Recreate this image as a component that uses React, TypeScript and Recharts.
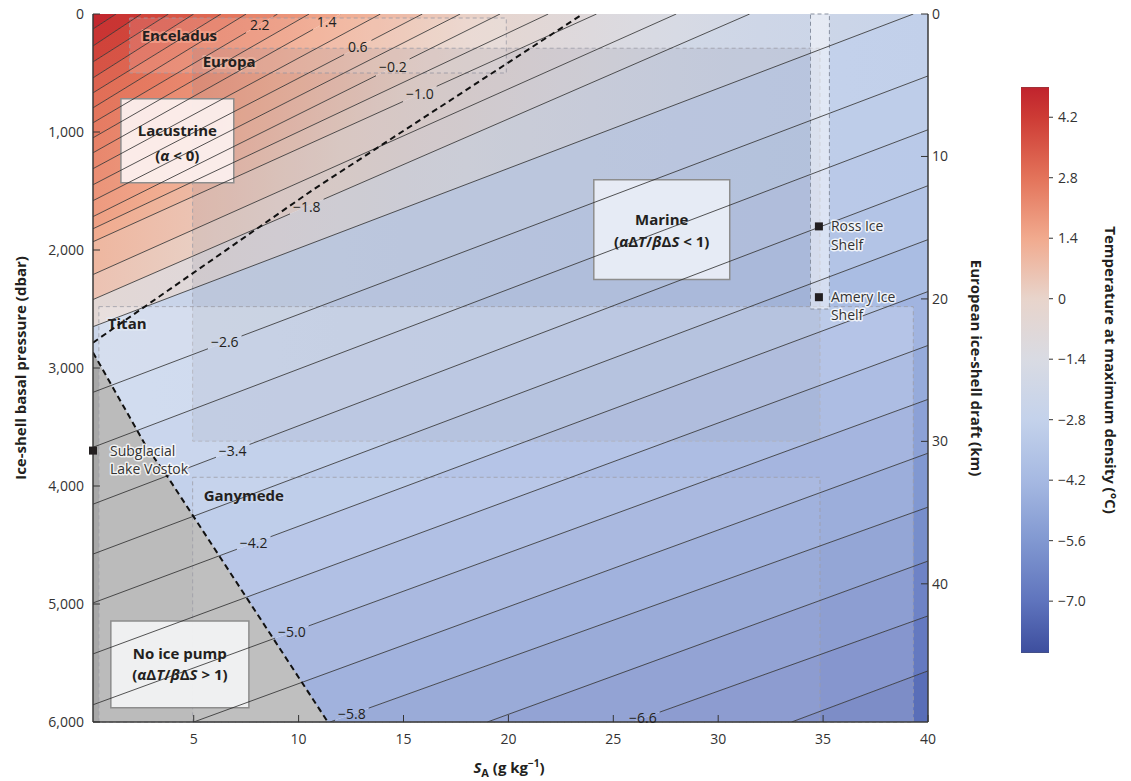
import React from 'react';
import { ComposedChart, Area, Line, XAxis, YAxis, ReferenceArea, ReferenceDot } from 'recharts';

// --- Axes ---
const S_MIN = 0.2;
const S_MAX = 40;
const P_MAX = 6000;
const KM_MAX = 49.7;

const xTicks = [5, 10, 15, 20, 25, 30, 35, 40];
const pTicks = [0, 1000, 2000, 3000, 4000, 5000, 6000];
const kmTicks = [0, 10, 20, 30, 40];
const cbTicks = [4.2, 2.8, 1.4, 0, -1.4, -2.8, -4.2, -5.6, -7.0];
const cbMin = -8.2;
const cbMax = 4.9;

// --- Contours (°C) ---
// contours running from the left edge (pressure) to the top edge (salinity)
const upperLevels = [4.6, 4.2, 3.8, 3.4, 3.0, 2.6, 2.2, 1.8, 1.4, 1.0, 0.6, 0.2, -0.2, -0.6, -1.0, -1.4, -1.8, -2.2];
const upperLeftP = [127, 271, 406, 541, 668, 795, 922, 1049, 1176, 1311, 1447, 1582, 1717, 1820, 1930, 2208, 2420, 2650];
const upperTopS = [1.3, 2.5, 3.8, 5.0, 6.3, 7.5, 9.0, 10.5, 12.0, 13.9, 15.9, 17.7, 19.6, 21.9, 24.2, 28.0, 31.5, 39.3];

// contours running from the left or bottom edge to the right edge
const lowerLevels = [-2.6, -3.0, -3.4, -3.8, -4.2, -4.6, -5.0, -5.4, -5.8, -6.2, -6.6, -7.0];
const lowerStartS = [0.2, 0.2, 0.2, 0.2, 0.2, 0.2, 0.2, 5.0, 11.5, 19.0, 25.9, 33.5];
const lowerStartP = [3206, 3672, 4154, 4577, 4991, 5423, 5854, 6000, 6000, 6000, 6000, 6000];
const lowerRightP = [525, 981, 1455, 1912, 2352, 2809, 3266, 3722, 4179, 4636, 5101, 5567];

// contour labels (level, salinity where the label sits)
const labelLevels = [2.2, 1.4, 0.6, -0.2, -1.0, -1.8, -2.6, -3.4, -4.2, -5.0, -5.8, -6.6];
const labelS = [8.15, 11.34, 12.82, 14.49, 15.78, 10.39, 6.48, 6.86, 7.86, 9.68, 12.54, 26.41];

// regime boundaries (dashed)
const lacustrineS = [0.2, 10.68, 23.55];
const lacustrineP = [2785, 1490, 0];
const noPumpS = [0.2, 2.76, 3.77, 11.39];
const noPumpP = [2868, 3672, 3926, 6000];

// ocean-world boxes
const zoneNames = ['Enceladus', 'Europa', 'Titan', 'Ganymede'];
const zoneS1 = [1.95, 4.95, 0.48, 4.95];
const zoneS2 = [19.9, 34.85, 39.3, 34.85];
const zoneP1 = [34, 290, 2480, 3926];
const zoneP2 = [500, 3620, 6000, 6000];
const shelfS = [34.4, 35.3];
const shelfP = [0, 2500];

// sites
const siteNames = [['Subglacial', 'Lake Vostok'], ['Ross Ice', 'Shelf'], ['Amery Ice', 'Shelf']];
const siteS = [0.2, 34.8, 34.8];
const siteP = [3700, 1800, 2400];

// regime boxes
const regimeS1 = [1.53, 24.07, 1.05];
const regimeS2 = [6.91, 30.55, 7.63];
const regimeP1 = [719, 1404, 5144];
const regimeP2 = [1430, 2250, 5880];

// --- Colour scale ---
const paletteT = [4.9, 4.2, 2.8, 1.4, 0, -1.4, -2.8, -4.2, -5.6, -7.0, -8.2];
const paletteC = ['#c0232d', '#cd3b35', '#e3735a', '#f1aa8e', '#e8d4cb', '#d9dbe3', '#c4d2eb', '#a6b9e2', '#8198d1', '#5f74bd', '#3d4e9e'];

const rgb = (h: string) => [1, 3, 5].map((k) => parseInt(h.slice(k, k + 2), 16));
function colorAt(t: number): string {
  const v = Math.max(paletteT[paletteT.length - 1], Math.min(paletteT[0], t));
  let i = 0;
  while (i < paletteT.length - 2 && v < paletteT[i + 1]) i++;
  const f = (paletteT[i] - v) / (paletteT[i] - paletteT[i + 1]);
  const a = rgb(paletteC[i]);
  const b = rgb(paletteC[i + 1]);
  return `rgb(${a.map((c, k) => Math.round(c + (b[k] - c) * f)).join(',')})`;
}

// shading tweak: the printed field reads warmer on the lacustrine side, cooler toward the top right
const warmK = (t: number) => {
  if (t >= 3.0) return 0;
  if (t >= -0.6) return (2.2 * (3.0 - t)) / 3.6;
  if (t >= -1.8) return 2.2;
  if (t >= -2.4) return (2.2 * (t + 2.4)) / 0.6;
  return 0;
};
const coolK = (t: number) => (t >= -2.2 ? 1 : t <= -3.4 ? 0 : (t + 3.4) / 1.2);
const shadeAt = (t: number, s: number, s0: number) =>
  colorAt(t + warmK(t) * Math.max(0, 1 - s / (1.2 * s0)) - 0.6 * coolK(t) * (s / S_MAX));
const gradS = [0.2, 3, 6, 9, 12, 15, 18, 21, 24, 28, 32, 36, 40];

// --- Geometry helpers ---
type Contour = { t: number; s1: number; p1: number; s2: number; p2: number };
const contours: Contour[] = [
  ...upperLevels.map((t, i) => ({ t, s1: S_MIN, p1: upperLeftP[i], s2: upperTopS[i], p2: 0 })),
  ...lowerLevels.map((t, i) => ({ t, s1: lowerStartS[i], p1: lowerStartP[i], s2: S_MAX, p2: lowerRightP[i] })),
];
const pAt = (c: Contour, s: number) => c.p1 + ((c.p2 - c.p1) * (s - c.s1)) / (c.s2 - c.s1);
const sAt = (c: Contour, p: number) => c.s1 + ((p - c.p1) * (c.s2 - c.s1)) / (c.p2 - c.p1);
const clampP = (v: number) => Math.max(0, Math.min(P_MAX, v));

type Edge = { bp: number[]; at: (s: number) => number; top: number };
const edgeOf = (c: Contour): Edge => ({
  bp: [sAt(c, 0), sAt(c, P_MAX)].filter((s) => s > S_MIN && s < S_MAX),
  at: (s) => clampP(pAt(c, s)),
  top: c.p2 === 0 ? c.s2 : S_MAX,
});
const edges: Edge[] = [{ bp: [], at: () => 0, top: 0 }, ...contours.map(edgeOf), { bp: [], at: () => P_MAX, top: S_MAX }];
const bands = edges.slice(0, -1).map((a, i) => {
  const b = edges[i + 1];
  const xs = Array.from(new Set([S_MIN, S_MAX, ...a.bp, ...b.bp])).sort((m, n) => m - n);
  const tUp = i === 0 ? contours[0].t + 0.4 : contours[i - 1].t;
  const tDn = i === contours.length ? contours[contours.length - 1].t - 0.4 : contours[i].t;
  const s0 = Math.max(1, (a.top + b.top) / 2);
  return { t: (tUp + tDn) / 2, s0, pts: xs.map((x) => ({ x, r: [a.at(x), b.at(x)] })) };
});

const fmt = (t: number) => (t < 0 ? `\u2212${Math.abs(t).toFixed(1)}` : t.toFixed(1));
const labelIndex = (t: number) => labelLevels.findIndex((l) => Math.abs(l - t) < 1e-6);

function contourPoints(c: Contour) {
  const k = labelIndex(c.t);
  if (k < 0) return [{ x: c.s1, p: c.p1 }, { x: c.s2, p: c.p2 }];
  const s = labelS[k];
  const half = fmt(c.t).length > 3 ? 0.8 : 0.65;
  const a = Math.max(c.s1, s - half);
  const b = Math.min(c.s2, s + half);
  return [
    { x: c.s1, p: c.p1 },
    { x: a, p: pAt(c, a) },
    { x: s, p: null },
    { x: b, p: pAt(c, b) },
    { x: c.s2, p: c.p2 },
  ];
}

const FONT = '"Open Sans", "Noto Sans", sans-serif';
const INK = '#231f20';

const zoneStyle = [
  { fill: '#ffffff', op: 0.14, halo: '#f4a48e' },
  { fill: '#6e6f80', op: 0.12, halo: '#efb8a4' },
  { fill: '#ffffff', op: 0.22, halo: '#dfe7f3' },
  { fill: '#ffffff', op: 0.06, halo: '#c9d5ec' },
];
const zoneLabelOffset = [[12, 23], [10, 19], [9, 22], [11, 24]];

const regimeFill = ['#fbeeec', '#e8ecf6', '#f0f1f3'];

const regimeText: React.ReactNode[][] = [
  ['Lacustrine', <>(<tspan fontStyle="italic">α</tspan> &lt; 0)</>],
  ['Marine', <>(<tspan fontStyle="italic">α</tspan>Δ<tspan fontStyle="italic">T</tspan>/<tspan fontStyle="italic">β</tspan>Δ<tspan fontStyle="italic">S</tspan> &lt; 1)</>],
  ['No ice pump', <>(<tspan fontStyle="italic">α</tspan>Δ<tspan fontStyle="italic">T</tspan>/<tspan fontStyle="italic">β</tspan>Δ<tspan fontStyle="italic">S</tspan> &gt; 1)</>],
];
const regimeDy = [[37, 62], [45, 67], [38, 59]];
const siteDx = [17, 12, 12];
const siteDy = [[5, 23], [5, 24], [5, 23]];

const axisLine = { stroke: '#3a3a3a', strokeWidth: 1.5 };
const tickStyle = { fill: '#333', fontSize: 14, fontFamily: FONT };

const Title: React.FC<{ x: number; y: number; rot?: number; children: React.ReactNode }> = ({ x, y, rot = 0, children }) => (
  <div
    style={{
      position: 'absolute', left: x, top: y, transform: `translate(-50%, -50%) rotate(${rot}deg)`,
      whiteSpace: 'nowrap', fontWeight: 700, fontSize: 15, color: INK, fontFamily: FONT,
    }}
  >
    {children}
  </div>
);

const MainChart: React.FC = () => (
  <ComposedChart width={1000} height={781} margin={{ top: 14, right: 0, bottom: 0, left: 0 }}>
    <defs>
      {bands.map((b, i) => (
        <linearGradient key={i} id={`band-${i}`} x1="0" y1="0" x2="1" y2="0">
          {gradS.map((s) => (
            <stop key={s} offset={`${((s - S_MIN) / (S_MAX - S_MIN)) * 100}%`} stopColor={shadeAt(b.t, s, b.s0)} />
          ))}
        </linearGradient>
      ))}
    </defs>
    <XAxis xAxisId="s" dataKey="x" type="number" domain={[S_MIN, S_MAX]} allowDataOverflow ticks={xTicks}
      height={59} tickSize={-7} tickMargin={19} axisLine={axisLine} tickLine={{ stroke: '#333' }} tick={tickStyle} interval={0} />
    <XAxis xAxisId="top" dataKey="x" orientation="top" type="number" domain={[S_MIN, S_MAX]} allowDataOverflow ticks={xTicks}
      height={0} tickSize={-7} axisLine={axisLine} tickLine={{ stroke: '#333' }} tick={false} interval={0} />
    <YAxis yAxisId="p" type="number" domain={[0, P_MAX]} reversed allowDataOverflow ticks={pTicks} width={93}
      tickSize={-7} tickMargin={16} axisLine={axisLine} tickLine={{ stroke: '#333' }} tick={tickStyle} interval={0}
      tickFormatter={(v: number) => v.toLocaleString('en-US')} />
    <YAxis yAxisId="km" orientation="right" type="number" domain={[0, KM_MAX]} reversed allowDataOverflow ticks={kmTicks} width={72}
      tickSize={-7} tickMargin={11} axisLine={axisLine} tickLine={{ stroke: '#333' }} tick={tickStyle} interval={0} />

    {/* filled temperature field */}
    {bands.map((b, i) => (
      <Area key={`band-${i}`} data={b.pts} dataKey="r" xAxisId="s" yAxisId="p" type="linear" stroke="none"
        fill={`url(#band-${i})`} fillOpacity={1} isAnimationActive={false} dot={false} activeDot={false} />
    ))}

    {/* no ice pump region */}
    <Area data={noPumpS.map((x, i) => ({ x, r: [noPumpP[i], P_MAX] }))} dataKey="r" xAxisId="s" yAxisId="p" type="linear"
      stroke="none" fill="#a8a8a8" fillOpacity={1} isAnimationActive={false} dot={false} activeDot={false} />

    {/* ocean-world boxes */}
    {zoneNames.map((name, i) => (
      <ReferenceArea key={name} xAxisId="s" yAxisId="p" x1={zoneS1[i]} x2={zoneS2[i]} y1={zoneP1[i]} y2={zoneP2[i]}
        fill={zoneStyle[i].fill} fillOpacity={zoneStyle[i].op} stroke="#9c9ca6" strokeOpacity={0.8} strokeDasharray="4 3"
        strokeWidth={1} ifOverflow="visible"
        label={(props: any) => {
          const { x, y } = props.viewBox;
          return (
            <text x={x + zoneLabelOffset[i][0]} y={y + zoneLabelOffset[i][1]} fontFamily={FONT} fontSize={15} fontWeight={700}
              fill={INK} stroke={zoneStyle[i].halo} strokeWidth={4} strokeOpacity={0.75} paintOrder="stroke" strokeLinejoin="round">
              {name}
            </text>
          );
        }} />
    ))}
    <ReferenceArea xAxisId="s" yAxisId="p" x1={shelfS[0]} x2={shelfS[1]} y1={shelfP[0]} y2={shelfP[1]}
      fill="#ffffff" fillOpacity={0.5} stroke="#8890a0" strokeDasharray="4 3" strokeWidth={1} ifOverflow="visible" />

    {/* contours */}
    {contours.map((c, i) => (
      <Line key={`c-${i}`} data={contourPoints(c)} dataKey="p" xAxisId="s" yAxisId="p" type="linear" stroke="#2a2a2a"
        strokeWidth={0.8} dot={false} activeDot={false} isAnimationActive={false} connectNulls={false} />
    ))}

    {/* regime boundaries */}
    <Line data={lacustrineS.map((x, i) => ({ x, p: lacustrineP[i] }))} dataKey="p" xAxisId="s" yAxisId="p" type="linear"
      stroke="#111" strokeWidth={2} strokeDasharray="6 4" dot={false} activeDot={false} isAnimationActive={false} />
    <Line data={noPumpS.map((x, i) => ({ x, p: noPumpP[i] }))} dataKey="p" xAxisId="s" yAxisId="p" type="linear"
      stroke="#111" strokeWidth={2} strokeDasharray="6 4" dot={false} activeDot={false} isAnimationActive={false} />

    {/* contour labels */}
    {labelLevels.map((t, k) => {
      const c = contours.find((cc) => Math.abs(cc.t - t) < 1e-6) as Contour;
      return (
        <ReferenceDot key={`lab-${k}`} xAxisId="s" yAxisId="p" x={labelS[k]} y={pAt(c, labelS[k])} r={0} ifOverflow="visible"
          fill="none" stroke="none"
          label={(props: any) => {
            const { x, y, width, height } = props.viewBox;
            return (
              <text x={x + width / 2} y={y + height / 2} dy={5} textAnchor="middle" fontFamily={FONT} fontSize={14} fill={INK}>
                {fmt(t)}
              </text>
            );
          }} />
      );
    })}

    {/* regime boxes */}
    {regimeText.map((lines, i) => (
      <ReferenceArea key={`reg-${i}`} xAxisId="s" yAxisId="p" x1={regimeS1[i]} x2={regimeS2[i]} y1={regimeP1[i]} y2={regimeP2[i]}
        fill={regimeFill[i]} fillOpacity={0.96} stroke="#8d8d8d" strokeWidth={1.5} ifOverflow="visible"
        label={(props: any) => {
          const { x, y, width } = props.viewBox;
          return (
            <g>
              {lines.map((l, j) => (
                <text key={j} x={x + width / 2} y={y + regimeDy[i][j]} textAnchor="middle" fontFamily={FONT} fontSize={15}
                  fontWeight={700} fill={INK}>
                  {l}
                </text>
              ))}
            </g>
          );
        }} />
    ))}

    {/* sites */}
    {siteNames.map((lines, i) => (
      <ReferenceDot key={`site-${i}`} xAxisId="s" yAxisId="p" x={siteS[i]} y={siteP[i]} r={4} ifOverflow="visible"
        shape={(p: any) => <rect x={p.cx - 4} y={p.cy - 4} width={8} height={8} fill={INK} />}
        label={(props: any) => {
          const { x, y, width, height } = props.viewBox;
          const cx = x + width / 2;
          const cy = y + height / 2;
          return (
            <g>
              {lines.map((l, j) => (
                <text key={j} x={cx + siteDx[i]} y={cy + siteDy[i][j]} fontFamily={FONT} fontSize={14} fill="#333"
                  stroke="#ffffff" strokeWidth={3} strokeOpacity={0.8} paintOrder="stroke" strokeLinejoin="round">
                  {l}
                </text>
              ))}
            </g>
          );
        }} />
    ))}
  </ComposedChart>
);

const ColorBar: React.FC = () => (
  <ComposedChart width={121} height={781} margin={{ top: 87, right: 0, bottom: 128, left: 11 }}>
    <defs>
      <linearGradient id="cbar" x1="0" y1="0" x2="0" y2="1">
        {paletteT.map((t, i) => (
          <stop key={t} offset={`${((cbMax - t) / (cbMax - cbMin)) * 100}%`} stopColor={paletteC[i]} />
        ))}
      </linearGradient>
    </defs>
    <XAxis xAxisId="c" dataKey="x" type="number" domain={[0, 1]} hide />
    <YAxis yAxisId="c" orientation="right" type="number" domain={[cbMin, cbMax]} allowDataOverflow ticks={cbTicks} width={82}
      tickSize={4} tickMargin={5} axisLine={false} tickLine={{ stroke: '#333' }} tick={{ ...tickStyle, textAnchor: 'start' }}
      interval={0} tickFormatter={(v: number) => (v < 0 ? `\u2212${Math.abs(v).toFixed(1)}` : v === 0 ? '0' : v.toFixed(1))} />
    <Area data={[{ x: 0, r: [cbMin, cbMax] }, { x: 1, r: [cbMin, cbMax] }]} dataKey="r" xAxisId="c" yAxisId="c" type="linear"
      stroke="#555" strokeWidth={0.6} fill="url(#cbar)" fillOpacity={1} isAnimationActive={false} dot={false} activeDot={false} />
  </ComposedChart>
);

export default function App() {
  return (
    <div style={{ position: 'absolute', left: 0, top: 0, width: 1131, height: 781, background: '#fff', fontFamily: FONT }}>
      <div style={{ position: 'absolute', left: 0, top: 0 }}>
        <MainChart />
      </div>
      <div style={{ position: 'absolute', left: 1010, top: 0 }}>
        <ColorBar />
      </div>
      <Title x={20} y={368} rot={-90}>Ice-shell basal pressure (dbar)</Title>
      <Title x={977} y={368} rot={90}>European ice-shell draft (km)</Title>
      <Title x={1111} y={370} rot={90}>Temperature at maximum density (°C)</Title>
      <Title x={509} y={768}>
        <span style={{ fontStyle: 'italic' }}>S</span>
        <sub style={{ fontSize: 11 }}>A</sub> (g kg<sup style={{ fontSize: 10 }}>−1</sup>)
      </Title>
    </div>
  );
}
